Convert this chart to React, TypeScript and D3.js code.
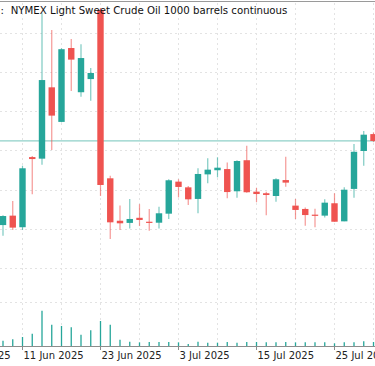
import React, { useEffect, useRef } from 'react';
import * as d3 from 'd3';

// every trading day on the visible axis (30 May is only used for its label)
const tradingDays = [
  '2025-05-30', '2025-06-02', '2025-06-03', '2025-06-04', '2025-06-05', '2025-06-06',
  '2025-06-09', '2025-06-10', '2025-06-11', '2025-06-12', '2025-06-13', '2025-06-16',
  '2025-06-17', '2025-06-18', '2025-06-19', '2025-06-20', '2025-06-23', '2025-06-24',
  '2025-06-25', '2025-06-26', '2025-06-27', '2025-06-30', '2025-07-01', '2025-07-02',
  '2025-07-03', '2025-07-04', '2025-07-07', '2025-07-08', '2025-07-09', '2025-07-10',
  '2025-07-11', '2025-07-14', '2025-07-15', '2025-07-16', '2025-07-17', '2025-07-18',
  '2025-07-21', '2025-07-22', '2025-07-23', '2025-07-24', '2025-07-25', '2025-07-28',
  '2025-07-29', '2025-07-30', '2025-07-31',
];

const candleDates = tradingDays.slice(6);

const opens = [
  64.2, 64.68, 64.09, 67.66, 67.58, 71.21, 69.45, 73.21, 70.96, 71.63, 75.15, 66.58,
  64.42, 64.31, 64.57, 64.37, 64.32, 64.78, 66.41, 66.12, 65.53, 66.78, 66.99, 67.05,
  65.92, 67.5, 65.9, 65.82, 65.68, 66.49, 65.19, 65.02, 64.73, 64.68, 65.31, 64.39,
  66.04, 67.97, 68.83,
];
const highs = [
  64.7, 65.42, 67.22, 67.72, 74.98, 74.13, 73.2, 73.67, 73.4, 72.19, 75.25, 66.71,
  65.19, 65.53, 65.26, 65.02, 65.13, 66.53, 66.53, 66.19, 67.09, 67.6, 67.65, 67.39,
  67.5, 68.24, 66.1, 65.9, 66.58, 67.68, 65.53, 65.1, 65.03, 65.51, 65.82, 66.12,
  68.33, 68.99, 68.92,
];
const lows = [
  63.66, 63.95, 63.95, 65.77, 67.27, 68.02, 69.43, 71.02, 70.73, 70.53, 65.68, 63.49,
  63.95, 64.02, 64.15, 63.91, 64.02, 64.51, 65.61, 65.22, 64.8, 66.33, 66.63, 65.56,
  65.59, 65.85, 65.36, 64.7, 65.39, 66.15, 64.51, 64.17, 64.09, 64.58, 64.37, 64.39,
  65.59, 67.22, 68.42,
];
const closes = [
  64.66, 64.07, 67.09, 67.56, 71.58, 69.77, 73.15, 72.62, 72.7, 71.94, 66.24, 64.34,
  64.29, 64.51, 64.46, 64.32, 64.8, 66.48, 66.14, 65.51, 66.8, 67.02, 67.12, 65.88,
  67.46, 65.87, 65.78, 65.73, 66.53, 66.36, 64.97, 64.71, 64.68, 65.34, 64.37, 66.0,
  67.93, 68.8, 68.48,
];
// thousands of contracts
const volumes = [
  48, 60, 81, 111, 319, 192, 181, 169, 102, 142, 226, 192,
  57, 39, 33, 36, 36, 36, 33, 18, 39, 30, 30, 36,
  30, 36, 36, 33, 33, 36, 33, 33, 33, 33, 24, 33,
  33, 42, 36,
];

const labelDates = ['2025-05-30', '2025-06-11', '2025-06-23', '2025-07-03', '2025-07-15', '2025-07-25'];
const priceGrid = [62, 64, 66, 68, 70, 72, 74];
const volumeGrid = [400];

const title = 'NYMEX Light Sweet Crude Oil 1000 barrels continuous';

const UP = '#26a69a';
const DOWN = '#ef5350';

export default function App() {
  const svgRef = useRef<SVGSVGElement | null>(null);

  useEffect(() => {
    const svgEl = svgRef.current;
    if (!svgEl) return;
    const width = 375;
    const height = 366;
    const svg = d3.select(svgEl);
    svg.selectAll('*').remove();

    const parse = d3.timeParse('%Y-%m-%d');
    const fmt = d3.timeFormat('%-d %b %Y');

    const x = d3.scalePoint<string>().domain(tradingDays).range([-55.5, 373.5]);
    const y = d3.scaleLinear().domain([64, 74]).range([229, 32.5]);
    const yv = d3.scaleLinear().domain([0, 400]).range([346, 301.7]);
    const axisY = 346;

    const grid = svg.append('g')
      .attr('stroke', '#e3e3e3')
      .attr('stroke-dasharray', '2,3')
      .attr('stroke-width', 1);

    // vertical grid every 4 bars
    grid.selectAll('line.v')
      .data(tradingDays.filter((_, i) => i % 4 === 0))
      .join('line')
      .attr('class', 'v')
      .attr('x1', (d) => x(d)!)
      .attr('x2', (d) => x(d)!)
      .attr('y1', 3)
      .attr('y2', axisY);

    grid.selectAll('line.h')
      .data(priceGrid)
      .join('line')
      .attr('class', 'h')
      .attr('x1', 0)
      .attr('x2', width)
      .attr('y1', (d) => Math.round(y(d)) + 0.5)
      .attr('y2', (d) => Math.round(y(d)) + 0.5);

    grid.selectAll('line.hv')
      .data(volumeGrid)
      .join('line')
      .attr('class', 'hv')
      .attr('x1', 0)
      .attr('x2', width)
      .attr('y1', (d) => Math.round(yv(d)) + 0.5)
      .attr('y2', (d) => Math.round(yv(d)) + 0.5);

    // top border
    svg.append('line')
      .attr('x1', 0).attr('x2', width)
      .attr('y1', 1.5).attr('y2', 1.5)
      .attr('stroke', '#9a9a9a');

    // last price line
    const last = closes[closes.length - 1];
    svg.append('line')
      .attr('x1', 0).attr('x2', width)
      .attr('y1', y(last)).attr('y2', y(last))
      .attr('stroke', '#8fd0c8')
      .attr('stroke-width', 1.2);

    const bodyW = 6.4;
    const candles = svg.append('g');
    candleDates.forEach((d, i) => {
      const cx = x(d)!;
      const o = opens[i];
      const c = closes[i];
      const col = c >= o ? UP : DOWN;
      candles.append('line')
        .attr('x1', cx).attr('x2', cx)
        .attr('y1', y(highs[i])).attr('y2', y(lows[i]))
        .attr('stroke', col)
        .attr('stroke-opacity', 0.6)
        .attr('stroke-width', 1.2);
      const top = y(Math.max(o, c));
      const h = Math.max(1.2, Math.abs(y(o) - y(c)));
      candles.append('rect')
        .attr('x', cx - bodyW / 2)
        .attr('y', top)
        .attr('width', bodyW)
        .attr('height', h)
        .attr('fill', col);
    });

    // volume
    svg.append('g')
      .selectAll('line')
      .data(candleDates)
      .join('line')
      .attr('x1', (d) => x(d)!)
      .attr('x2', (d) => x(d)!)
      .attr('y1', axisY)
      .attr('y2', (_, i) => yv(volumes[i]))
      .attr('stroke', UP)
      .attr('stroke-width', 1.3);

    // x axis
    const axis = svg.append('g').attr('transform', `translate(0,${axisY})`);
    axis.append('line')
      .attr('x1', 0).attr('x2', width)
      .attr('y1', 0.5).attr('y2', 0.5)
      .attr('stroke', '#8c8c8c');
    const ticks = axis.selectAll('g.tick')
      .data(labelDates)
      .join('g')
      .attr('class', 'tick')
      .attr('transform', (d) => `translate(${x(d)},0)`);
    ticks.append('line')
      .attr('y1', 0).attr('y2', 4)
      .attr('stroke', '#8c8c8c');
    ticks.append('text')
      .attr('x', 1)
      .attr('y', 13)
      .attr('font-family', 'DejaVu Sans')
      .attr('font-size', 10)
      .attr('fill', '#222')
      .text((d) => fmt(parse(d)!));

    // title
    svg.append('text')
      .attr('x', 0.5).attr('y', 14)
      .attr('font-family', 'DejaVu Sans')
      .attr('font-size', 10.2)
      .attr('fill', '#111')
      .text(':');
    svg.append('text')
      .attr('x', 10.7).attr('y', 14)
      .attr('font-family', 'DejaVu Sans')
      .attr('font-size', 10.2)
      .attr('fill', '#111')
      .text(title);
  }, []);

  return (
    <div style={{ position: 'fixed', left: 0, top: 0, width: 375, height: 366, background: '#fff' }}>
      <svg ref={svgRef} width={375} height={366} style={{ display: 'block' }} />
    </div>
  );
}
